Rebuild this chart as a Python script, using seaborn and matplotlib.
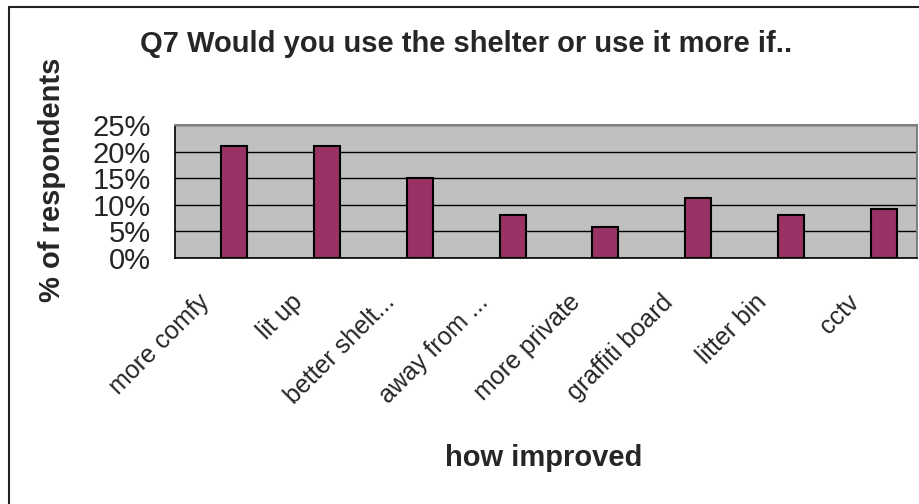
import numpy as np
import pandas as pd
import matplotlib
matplotlib.use("Agg")
import matplotlib.pyplot as plt
import matplotlib.transforms as mtransforms
from matplotlib.lines import Line2D
from matplotlib.ticker import PercentFormatter, FixedLocator
import seaborn as sns

# data
categories = ["more comfy", "lit up", "better shelt...", "away from ...",
              "more private", "graffiti board", "litter bin", "cctv"]
percent = [21.1, 21.1, 15.1, 8.1, 5.9, 11.2, 8.1, 9.2]
y_ticks = [0, 5, 10, 15, 20, 25]

df = pd.DataFrame({"improvement": categories, "percent": percent, "series": "Q7"})

sns.set_style("white")
plt.rcParams["font.family"] = ["Liberation Sans", "DejaVu Sans"]
FS = 21

fig = plt.figure(figsize=(9.2, 5.04), dpi=100)
ax = fig.add_axes([175 / 920, 246 / 504, 742 / 920, 133 / 504])
ax.set_facecolor("#C0C0C0")

# excel keeps an empty slot to the left of each bar (blank series)
sns.barplot(data=df, x="improvement", y="percent", hue="series",
            hue_order=["", "Q7"], order=categories, width=0.56, dodge=True,
            palette={"": "white", "Q7": "#993366"}, saturation=1,
            edgecolor="black", linewidth=1.5, legend=False, ax=ax)

ax.set_xlim(-0.5, len(categories) - 0.5)
ax.set_ylim(0, 25)
ax.set_yticks(y_ticks)
ax.yaxis.set_major_formatter(PercentFormatter(xmax=100, decimals=0))
ax.yaxis.grid(True, color="black", lw=1)
ax.set_axisbelow(True)

ax.xaxis.set_minor_locator(FixedLocator(np.arange(-0.5, len(categories), 1.0)))
ax.tick_params(axis="x", which="major", length=0, pad=23, labelsize=18)
ax.tick_params(axis="x", which="minor", length=5, width=1, color="black", direction="out")
ax.tick_params(axis="y", length=6.5, width=1, color="black", direction="out", pad=11,
               labelsize=FS)
shift = mtransforms.ScaledTranslation(-24 / 100, 0, fig.dpi_scale_trans)
for lab in ax.get_xticklabels():
    lab.set_rotation(45)
    lab.set_ha("right")
    lab.set_rotation_mode("anchor")
    lab.set_transform(lab.get_transform() + shift)

for s in ["left", "bottom"]:
    ax.spines[s].set_color("black")
    ax.spines[s].set_linewidth(1.2)
for s in ["top", "right"]:
    ax.spines[s].set_color("#808080")
    ax.spines[s].set_linewidth(1.5)

ax.set_xlabel("")
ax.set_ylabel("")
fig.text(466 / 920, 1 - 44 / 504, "Q7 Would you use the shelter or use it more if..",
         ha="center", va="center", fontsize=FS, fontweight="bold")
fig.text(52 / 920, 1 - 180 / 504, "% of respondents", rotation=90,
         ha="center", va="center", fontsize=FS, fontweight="bold")
fig.text(544 / 920, 1 - 458 / 504, "how improved",
         ha="center", va="center", fontsize=FS, fontweight="bold")

# chart area border (only left and top survive the crop)
fig.add_artist(Line2D([9 / 920, 9 / 920], [0, 1 - 7 / 504], color="#222222", lw=1.5))
fig.add_artist(Line2D([9 / 920, 1], [1 - 7 / 504, 1 - 7 / 504], color="#222222", lw=1.5))

fig.savefig("out.png", dpi=100)
